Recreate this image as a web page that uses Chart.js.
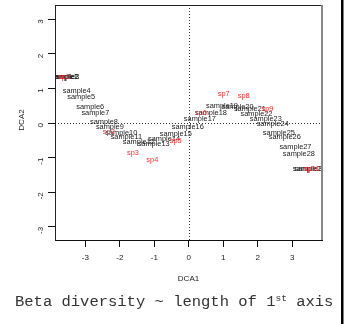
<!DOCTYPE html>
<html>
<head>
<meta charset="utf-8">
<script src="https://cdn.jsdelivr.net/npm/chart.js@4/dist/chart.umd.min.js"></script>
<style>
  html, body { margin: 0; padding: 0; background: #fff; }
  canvas { display: block; }
</style>
</head>
<body>
<canvas id="dcaChart" width="349" height="324"></canvas>
<script>
// DCA site scores (samples)
const sampleNames = ['sample1', 'sample2', 'sample3', 'sample4', 'sample5', 'sample6', 'sample7', 'sample8',
    'sample9', 'sample10', 'sample11', 'sample12', 'sample13', 'sample14', 'sample15', 'sample16',
    'sample17', 'sample18', 'sample19', 'sample20', 'sample21', 'sample22', 'sample23', 'sample24',
    'sample25', 'sample26', 'sample27', 'sample28', 'sample29', 'sample30'];
const sampleX = [-3.62, -3.60, -3.58, -3.25, -3.12, -2.86, -2.71, -2.46, -2.29, -1.96, -1.81, -1.45, -1.02, -0.72, -0.38,
    -0.03, 0.32, 0.64, 0.96, 1.41, 1.77, 1.96, 2.23, 2.43, 2.61, 2.78, 3.09, 3.19, 3.48, 3.52];
const sampleY = [1.33, 1.33, 1.34, 0.94, 0.76, 0.45, 0.28, 0.03, -0.12, -0.28, -0.41, -0.54, -0.61, -0.45, -0.33,
    -0.10, 0.11, 0.28, 0.50, 0.45, 0.40, 0.26, 0.11, -0.03, -0.28, -0.41, -0.70, -0.88, -1.33, -1.33];

// DCA species scores
const speciesNames = ['sp1', 'sp2', 'sp3', 'sp4', 'sp5', 'sp6', 'sp7', 'sp8', 'sp9', 'sp10'];
const speciesX = [-3.62, -2.32, -1.62, -1.06, -0.38, 0.35, 1.01, 1.59, 2.28, 3.57];
const speciesY = [1.33, -0.27, -0.86, -1.07, -0.51, 0.28, 0.84, 0.79, 0.40, -1.33];

const axisTicks = [-3, -2, -1, 0, 1, 2, 3];
const xRange = [-3.88, 3.86];
const yRange = [-3.38, 3.41];

const toPoints = (xs, ys) => xs.map((x, i) => ({ x: x, y: ys[i] }));

// Draws labels at the points, the dotted zero lines, the box and the text around it
const ordiPlugin = {
    id: 'ordiLabels',
    beforeDatasetsDraw(chart) {
        const { ctx, chartArea: a, scales } = chart;
        const x0 = scales.x.getPixelForValue(0);
        const y0 = scales.y.getPixelForValue(0);
        ctx.save();
        ctx.strokeStyle = '#333';
        ctx.lineWidth = 1;
        ctx.setLineDash([1, 2]);
        ctx.beginPath();
        ctx.moveTo(Math.round(x0) + 0.5, a.top);
        ctx.lineTo(Math.round(x0) + 0.5, a.bottom);
        ctx.moveTo(a.left, Math.round(y0) + 0.5);
        ctx.lineTo(a.right, Math.round(y0) + 0.5);
        ctx.stroke();
        ctx.restore();
    },
    afterDatasetsDraw(chart) {
        const { ctx, chartArea: a } = chart;
        ctx.save();
        ctx.beginPath();
        ctx.rect(a.left, a.top, a.right - a.left, a.bottom - a.top);
        ctx.clip();
        ctx.font = '7.4px "Liberation Sans", Arial, sans-serif';
        ctx.textAlign = 'center';
        ctx.textBaseline = 'middle';
        chart.data.datasets.forEach((ds, di) => {
            const meta = chart.getDatasetMeta(di);
            ctx.fillStyle = ds.textColor;
            meta.data.forEach((el, i) => {
                ctx.fillText(ds.names[i], el.x, el.y);
            });
        });
        ctx.restore();

        // plot box
        ctx.save();
        ctx.lineWidth = 1;
        ctx.strokeStyle = '#222';
        ctx.beginPath();
        ctx.moveTo(a.left + 0.5, a.bottom);
        ctx.lineTo(a.left + 0.5, a.top + 0.5);
        ctx.lineTo(a.right, a.top + 0.5);
        ctx.stroke();
        ctx.strokeStyle = '#888';
        ctx.lineWidth = 2;
        ctx.beginPath();
        ctx.moveTo(a.right, a.top);
        ctx.lineTo(a.right, a.bottom);
        ctx.stroke();

        // axis titles
        ctx.fillStyle = '#222';
        ctx.font = '8px "Liberation Sans", Arial, sans-serif';
        ctx.textAlign = 'center';
        ctx.textBaseline = 'middle';
        ctx.fillText('DCA1', (a.left + a.right) / 2, 279);
        ctx.save();
        ctx.translate(22, 120);
        ctx.rotate(-Math.PI / 2);
        ctx.fillText('DCA2', 0, 0);
        ctx.restore();

        // caption with superscript
        ctx.fillStyle = '#333';
        ctx.textAlign = 'left';
        ctx.textBaseline = 'alphabetic';
        ctx.font = '15.5px "Liberation Mono", "Courier New", monospace';
        let cx = 15;
        const base = 306;
        const part1 = 'Beta diversity ~ length of 1';
        ctx.fillText(part1, cx, base);
        cx += ctx.measureText(part1).width;
        ctx.font = '9.5px "Liberation Mono", "Courier New", monospace';
        ctx.fillText('st', cx, base - 5.5);
        cx += ctx.measureText('st').width;
        ctx.font = '15.5px "Liberation Mono", "Courier New", monospace';
        ctx.fillText(' axis', cx, base);

        // panel divider on the right
        ctx.fillStyle = '#000';
        ctx.fillRect(341, 0, 2.5, 324);
        ctx.restore();
    }
};

const tickFont = { family: '"Liberation Sans", Arial, sans-serif', size: 8 };

new Chart(document.getElementById('dcaChart'), {
    type: 'scatter',
    data: {
        datasets: [
            {
                label: 'sites',
                data: toPoints(sampleX, sampleY),
                names: sampleNames,
                textColor: '#1a1a1a',
                pointRadius: 0,
                pointHoverRadius: 0
            },
            {
                label: 'species',
                data: toPoints(speciesX, speciesY),
                names: speciesNames,
                textColor: '#ff2b2b',
                pointRadius: 0,
                pointHoverRadius: 0
            }
        ]
    },
    options: {
        responsive: false,
        animation: false,
        layout: { padding: { top: 5, right: 27, left: 0, bottom: 0 } },
        plugins: {
            legend: { display: false },
            tooltip: { enabled: false }
        },
        scales: {
            x: {
                type: 'linear',
                min: xRange[0],
                max: xRange[1],
                afterFit: s => { s.height = 84; s.paddingLeft = 0; s.paddingRight = 0; },
                afterBuildTicks: s => { s.ticks = axisTicks.map(v => ({ value: v })); },
                border: { display: true, color: '#111', width: 1 },
                grid: { drawOnChartArea: false, drawTicks: true, tickLength: 7, tickColor: '#111' },
                ticks: { font: tickFont, color: '#222', padding: 6, maxRotation: 0 }
            },
            y: {
                type: 'linear',
                min: yRange[0],
                max: yRange[1],
                afterFit: s => { s.width = 55; s.paddingTop = 0; s.paddingBottom = 0; },
                afterBuildTicks: s => { s.ticks = axisTicks.map(v => ({ value: v })); },
                border: { display: true, color: '#111', width: 1 },
                grid: { drawOnChartArea: false, drawTicks: true, tickLength: 7, tickColor: '#111' },
                ticks: { font: tickFont, color: '#222', padding: 7, minRotation: 90, maxRotation: 90 }
            }
        }
    },
    plugins: [ordiPlugin]
});
</script>
</body>
</html>
